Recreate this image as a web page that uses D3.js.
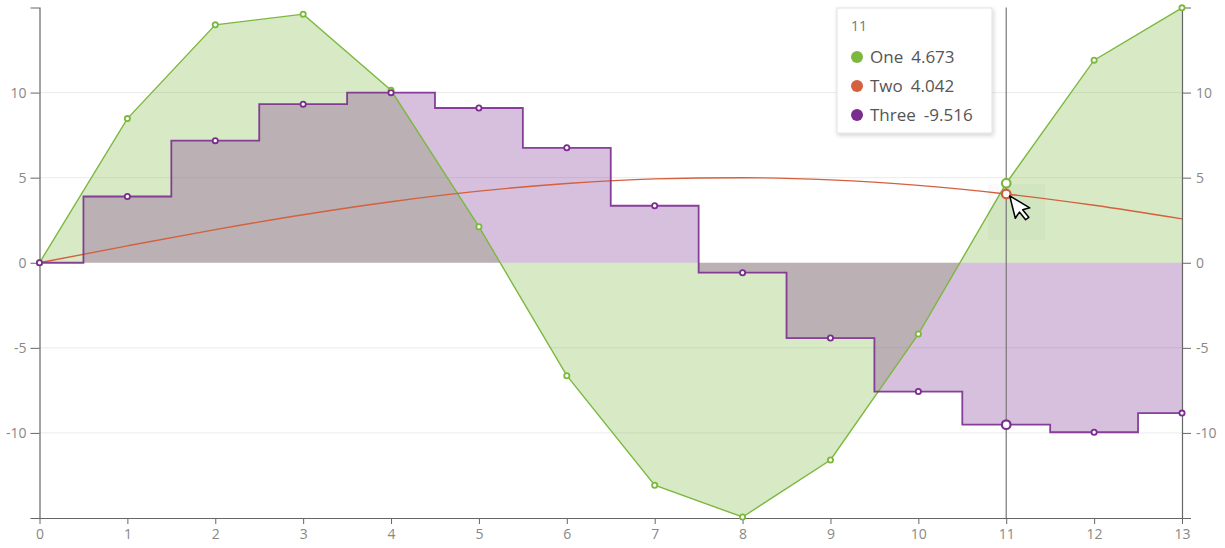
<!DOCTYPE html>
<html>
<head>
<meta charset="utf-8">
<script src="https://cdn.jsdelivr.net/npm/d3@7"></script>
<style>
  html, body { margin: 0; padding: 0; background: #fff; }
  svg { display: block; font-family: "Open Sans", "Noto Sans", sans-serif; }
</style>
</head>
<body>
<svg id="chart" width="1225" height="548"></svg>
<script>
// ---- data ----
const xValues = [0, 1, 2, 3, 4, 5, 6, 7, 8, 9, 10, 11, 12, 13];
const seriesNames = ["One", "Two", "Three"];
const seriesOne = [0, 8.470, 13.981, 14.608, 10.132, 2.117, -6.638, -13.074, -14.942, -11.591, -4.191, 4.673, 11.905, 14.978];
const seriesTwo = [0, 0.993, 1.947, 2.823, 3.587, 4.207, 4.660, 4.927, 4.998, 4.869, 4.546, 4.042, 3.377, 2.578];
const seriesThree = [0, 3.894, 7.174, 9.320, 9.996, 9.093, 6.755, 3.350, -0.584, -4.425, -7.568, -9.516, -9.962, -8.835];
const yTicks = [-10, -5, 0, 5, 10];
const gridTicks = [-10, -5, 5, 10];
const hoverIndex = 11;

// ---- styles ----
const colOne = "#7cb83e", colTwo = "#d4603e", colThree = "#7b2d8f";

const svg = d3.select("#chart");
const x = d3.scaleLinear().domain([0, 13]).range([39.5, 1182]);
const y = d3.scaleLinear().domain([-15, 15]).range([518, 7.5]);

// grid
svg.append("g").selectAll("line").data(gridTicks).join("line")
  .attr("x1", x(0)).attr("x2", x(13))
  .attr("y1", d => y(d)).attr("y2", d => y(d))
  .attr("stroke", "#ebebeb").attr("stroke-width", 1);

const ptsOne = xValues.map((v, i) => [v, seriesOne[i]]);
const ptsTwo = xValues.map((v, i) => [v, seriesTwo[i]]);
const ptsThree = xValues.map((v, i) => [v, seriesThree[i]]);

// areas
const areaLin = d3.area().x(d => x(d[0])).y0(y(0)).y1(d => y(d[1]));
const areaStep = d3.area().curve(d3.curveStep).x(d => x(d[0])).y0(y(0)).y1(d => y(d[1]));
svg.append("path").attr("d", areaLin(ptsOne)).attr("fill", colOne).attr("fill-opacity", 0.3);
svg.append("path").attr("d", areaStep(ptsThree)).attr("fill", colThree).attr("fill-opacity", 0.3);

// axes
const fmt = d => String(d);
const gL = svg.append("g").attr("transform", `translate(${x(0)},0)`)
  .call(d3.axisLeft(y).tickValues(yTicks).tickFormat(fmt).tickSizeInner(9).tickSizeOuter(9).tickPadding(4));
const gR = svg.append("g").attr("transform", `translate(${x(13)},0)`)
  .call(d3.axisRight(y).tickValues(yTicks).tickFormat(fmt).tickSizeInner(9).tickSizeOuter(9).tickPadding(5));
const gB = svg.append("g").attr("transform", `translate(0,${y(-15)})`)
  .call(d3.axisBottom(x).tickValues(xValues).tickFormat(fmt).tickSizeInner(6).tickSizeOuter(0).tickPadding(5));
[gL, gR, gB].forEach(g => {
  g.selectAll(".domain").attr("stroke", "#666").attr("stroke-width", 1.2);
  g.selectAll(".tick line").attr("stroke", "#666").attr("stroke-width", 1);
  g.selectAll(".tick text").attr("fill", "#888").attr("font-size", 14)
    .attr("font-family", "'Open Sans', 'Noto Sans', sans-serif");
});

// lines
const lineLin = d3.line().x(d => x(d[0])).y(d => y(d[1]));
const lineStep = d3.line().curve(d3.curveStep).x(d => x(d[0])).y(d => y(d[1]));
const lineSmooth = d3.line().curve(d3.curveMonotoneX).x(d => x(d[0])).y(d => y(d[1]));
svg.append("path").attr("d", lineLin(ptsOne)).attr("fill", "none").attr("stroke", colOne).attr("stroke-width", 1.4);
svg.append("path").attr("d", lineSmooth(ptsTwo)).attr("fill", "none").attr("stroke", colTwo).attr("stroke-width", 1.4);
svg.append("path").attr("d", lineStep(ptsThree)).attr("fill", "none").attr("stroke", colThree).attr("stroke-width", 1.8).attr("stroke-opacity", 0.9);

// crosshair
svg.append("line").attr("x1", x(hoverIndex)).attr("x2", x(hoverIndex))
  .attr("y1", y(15)).attr("y2", y(-15)).attr("stroke", "#777").attr("stroke-width", 1.2);

// points
function pts(data, col) {
  svg.append("g").selectAll("circle").data(data.filter((d, i) => i !== hoverIndex)).join("circle")
    .attr("cx", d => x(d[0])).attr("cy", d => y(d[1])).attr("r", 2.6)
    .attr("fill", "#fff").attr("stroke", col).attr("stroke-width", 1.8);
}
pts(ptsOne, colOne);
pts(ptsThree, colThree);
// hover markers
[[ptsOne, colOne], [ptsTwo, colTwo], [ptsThree, colThree]].forEach(([p, c]) => {
  svg.append("circle").attr("cx", x(p[hoverIndex][0])).attr("cy", y(p[hoverIndex][1])).attr("r", 4.3)
    .attr("fill", "#fff").attr("stroke", c).attr("stroke-width", 2.2);
});

// cursor shadow + arrow
svg.append("rect").attr("x", 988).attr("y", 184).attr("width", 57).attr("height", 56)
  .attr("fill", "#000").attr("fill-opacity", 0.02);
const cx0 = x(hoverIndex) + 3.5, cy0 = y(seriesTwo[hoverIndex]) + 2;
svg.append("path")
  .attr("d", "M0,0 L0,20 L4.8,15.6 L8.4,23.4 L11.6,22 L8,14.4 L14.4,14.2 Z")
  .attr("transform", `translate(${cx0},${cy0}) rotate(-14) scale(1.15)`)
  .attr("fill", "#fff").attr("stroke", "#000").attr("stroke-width", 1.3).attr("stroke-linejoin", "round");

// tooltip
const defs = svg.append("defs");
const f = defs.append("filter").attr("id", "sh").attr("x", "-20%").attr("y", "-20%").attr("width", "140%").attr("height", "140%");
f.append("feDropShadow").attr("dx", 1).attr("dy", 2).attr("stdDeviation", 2).attr("flood-color", "#000").attr("flood-opacity", 0.18);
const tt = svg.append("g");
tt.append("rect").attr("x", 837).attr("y", 8).attr("width", 155).attr("height", 125)
  .attr("fill", "#fff").attr("stroke", "#e2e2e2").attr("filter", "url(#sh)");
tt.append("text").attr("x", 851).attr("y", 31).attr("font-size", 14).attr("fill", "#777").text(String(xValues[hoverIndex]));
const rows = [[seriesNames[0], seriesOne[hoverIndex], colOne], [seriesNames[1], seriesTwo[hoverIndex], colTwo], [seriesNames[2], seriesThree[hoverIndex], colThree]];
rows.forEach(([name, val, col], i) => {
  const cy = 57 + i * 29;
  tt.append("circle").attr("cx", 857).attr("cy", cy).attr("r", 6).attr("fill", col);
  const t = tt.append("text").attr("x", 870).attr("y", cy + 6).attr("font-size", 17).attr("fill", "#555").text(name);
  const w = t.node().getComputedTextLength();
  tt.append("text").attr("x", 870 + w + 8).attr("y", cy + 6).attr("font-size", 17).attr("fill", "#555").text(val.toFixed(3));
});
</script>
</body>
</html>
